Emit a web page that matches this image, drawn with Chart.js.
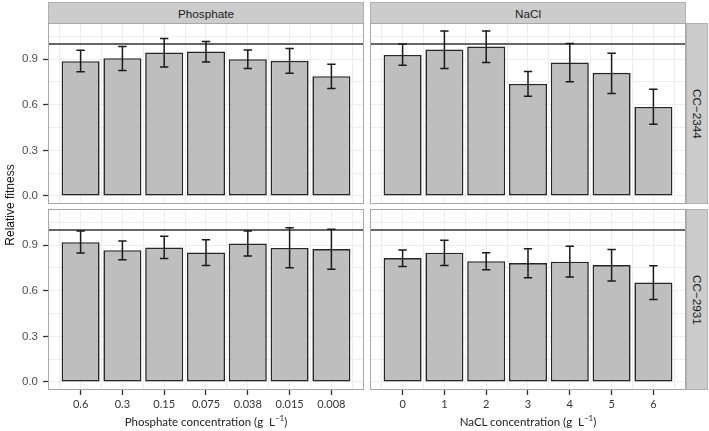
<!DOCTYPE html>
<html>
<head>
<meta charset="utf-8">
<script src="https://cdn.jsdelivr.net/npm/chart.js@4.4.1/dist/chart.umd.min.js"></script>
<style>
    body { margin: 0; background: #fff; }
    #wrap { position: relative; width: 709px; height: 431px; overflow: hidden; font-family: "Liberation Sans", Arial, sans-serif; }
    #wrap canvas { position: absolute; }
    .strip { position: absolute; box-sizing: border-box; background: #cccccc; border: 1px solid #b0b0b0; color: #1a1a1a; font-size: 11.7px; display: flex; align-items: center; justify-content: center; }
    .strip.side { writing-mode: vertical-rl; }
    .xtitle { position: absolute; top: 413px; font-family: Lato, "Open Sans", sans-serif; font-size: 11.5px; color: #222; text-align: center; white-space: nowrap; }
    .xtitle sup { font-size: 8px; }
    #ytitle { position: absolute; left: -40px; top: 198px; width: 100px; text-align: center; transform: rotate(-90deg); font-size: 12px; color: #111; white-space: nowrap; }
</style>
</head>
<body>
<div id="wrap">
    <div class="strip" style="left:48px;top:2px;width:316px;height:22px;">Phosphate</div>
    <div class="strip" style="left:370px;top:2px;width:316px;height:22px;">NaCl</div>
    <div class="strip side" style="left:686px;top:23px;width:22px;height:181px;">CC−2344</div>
    <div class="strip side" style="left:686px;top:209px;width:22px;height:181px;">CC−2931</div>

    <canvas id="p_tl" width="364" height="181" style="left:0;top:23px;"></canvas>
    <canvas id="p_tr" width="316" height="181" style="left:370px;top:23px;"></canvas>
    <canvas id="p_bl" width="364" height="211" style="left:0;top:209px;"></canvas>
    <canvas id="p_br" width="316" height="211" style="left:370px;top:209px;"></canvas>

    <div id="ytitle">Relative fitness</div>
    <div class="xtitle" style="left:48px;width:316px;">Phosphate concentration (g&nbsp;&nbsp;L<sup>−1</sup>)</div>
    <div class="xtitle" style="left:370px;width:316px;">NaCL concentration (g&nbsp;&nbsp;L<sup>−1</sup>)</div>
</div>

<script>
// Categorias
const phosphateLabels = ['0.6', '0.3', '0.15', '0.075', '0.038', '0.015', '0.008'];
const naclLabels = ['0', '1', '2', '3', '4', '5', '6'];

// Valores (media, limite inferior y superior)
const phos2344 = [0.887, 0.906, 0.944, 0.950, 0.900, 0.889, 0.788];
const phos2344Lo = [0.817, 0.825, 0.849, 0.882, 0.838, 0.808, 0.707];
const phos2344Hi = [0.959, 0.983, 1.036, 1.016, 0.961, 0.970, 0.867];

const nacl2344 = [0.928, 0.964, 0.983, 0.737, 0.878, 0.810, 0.586];
const nacl2344Lo = [0.860, 0.838, 0.878, 0.656, 0.751, 0.674, 0.472];
const nacl2344Hi = [0.999, 1.086, 1.086, 0.819, 1.003, 0.939, 0.702];

const phos2931 = [0.920, 0.867, 0.885, 0.852, 0.911, 0.882, 0.874];
const phos2931Lo = [0.848, 0.804, 0.813, 0.767, 0.828, 0.751, 0.741];
const phos2931Hi = [0.994, 0.928, 0.959, 0.935, 0.994, 1.014, 1.005];

const nacl2931 = [0.815, 0.850, 0.795, 0.782, 0.791, 0.769, 0.655];
const nacl2931Lo = [0.760, 0.767, 0.738, 0.686, 0.690, 0.664, 0.542];
const nacl2931Hi = [0.869, 0.933, 0.850, 0.876, 0.893, 0.872, 0.765];

// Ticks eje Y
const yMajorTicks = [0, 0.3, 0.6, 0.9];
const yMinorTicks = [0.15, 0.45, 0.75, 1.05];
const REF_LINE = 1;

const GRID = '#ededed';

Chart.defaults.font.family = '"Liberation Sans", Arial, sans-serif';

// Barras de error, linea de referencia y borde del panel
const panelExtras = {
    id: 'panelExtras',
    afterDatasetsDraw(chart, args, opts) {
        const { ctx, chartArea, scales: { x, y } } = chart;
        ctx.save();

        // linea horizontal en 1
        const yr = y.getPixelForValue(REF_LINE);
        ctx.strokeStyle = '#333';
        ctx.lineWidth = 1.5;
        ctx.beginPath();
        ctx.moveTo(chartArea.left, yr);
        ctx.lineTo(chartArea.right, yr);
        ctx.stroke();

        // errores
        ctx.strokeStyle = '#1a1a1a';
        ctx.lineWidth = 1.5;
        opts.lo.forEach((lo, i) => {
            const cx = x.getPixelForValue(i + 1);
            const half = x.getPixelForValue(i + 1.1) - cx;
            const yl = y.getPixelForValue(lo);
            const yh = y.getPixelForValue(opts.hi[i]);
            ctx.beginPath();
            ctx.moveTo(cx, yl); ctx.lineTo(cx, yh);
            ctx.moveTo(cx - half, yl); ctx.lineTo(cx + half, yl);
            ctx.moveTo(cx - half, yh); ctx.lineTo(cx + half, yh);
            ctx.stroke();
        });

        // borde
        ctx.strokeStyle = '#a8a8a8';
        ctx.lineWidth = 1;
        ctx.strokeRect(chartArea.left + 0.5, chartArea.top + 0.5,
            chartArea.right - chartArea.left - 1, chartArea.bottom - chartArea.top - 1);
        ctx.restore();
    }
};

function sinPadding(s) {
    s.paddingTop = 0;
    s.paddingBottom = 0;
    s.paddingLeft = 0;
    s.paddingRight = 0;
}

function crearPanel(id, labels, values, lo, hi, showY, showX) {
    const n = labels.length;
    const halfTicks = [];
    for (let i = 0; i <= n; i++) halfTicks.push({ value: i + 0.5 });

    return new Chart(document.getElementById(id), {
        type: 'bar',
        data: {
            datasets: [{
                data: values.map((v, i) => ({ x: i + 1, y: v })),
                backgroundColor: '#bebebe',
                borderColor: '#262626',
                borderWidth: 1.6,
                borderSkipped: false,
                barPercentage: 0.91,
                categoryPercentage: 1
            }]
        },
        options: {
            responsive: false,
            animation: false,
            layout: { padding: 0 },
            plugins: {
                legend: { display: false },
                tooltip: { enabled: false },
                panelExtras: { lo: lo, hi: hi }
            },
            scales: {
                x: {
                    type: 'linear',
                    position: 'bottom',
                    offset: false,
                    min: 0.22,
                    max: n + 0.78,
                    afterBuildTicks: s => { s.ticks = labels.map((l, i) => ({ value: i + 1 })); },
                    afterFit: s => { s.height = showX ? 30 : 0; sinPadding(s); },
                    border: { display: false },
                    grid: {
                        offset: false,
                        color: GRID,
                        drawTicks: showX,
                        tickLength: 5,
                        tickColor: '#333',
                        tickWidth: 1.3
                    },
                    ticks: {
                        display: showX,
                        autoSkip: false,
                        maxRotation: 0,
                        padding: 3,
                        color: '#333',
                        font: { family: 'Lato', size: 11 },
                        callback: v => labels[v - 1]
                    }
                },
                x2: {
                    type: 'linear',
                    position: 'bottom',
                    offset: false,
                    min: 0.22,
                    max: n + 0.78,
                    afterBuildTicks: s => { s.ticks = halfTicks.slice(); },
                    afterFit: s => { s.height = 0; sinPadding(s); },
                    border: { display: false },
                    grid: { offset: false, color: GRID, drawTicks: false },
                    ticks: { display: false }
                },
                y: {
                    min: -0.053,
                    max: 1.138,
                    afterBuildTicks: s => {
                        s.ticks = yMajorTicks.concat(yMinorTicks).sort((a, b) => a - b).map(v => ({ value: v }));
                    },
                    afterFit: s => { s.width = showY ? 48 : 0; sinPadding(s); },
                    border: { display: false },
                    grid: {
                        color: GRID,
                        drawTicks: showY,
                        tickLength: 5,
                        tickWidth: 1.3,
                        tickColor: ctx => yMajorTicks.includes(ctx.tick.value) ? '#333' : 'rgba(0,0,0,0)'
                    },
                    ticks: {
                        display: showY,
                        padding: 5,
                        color: '#4d4d4d',
                        font: { size: 11.5 },
                        callback: v => yMajorTicks.includes(v) ? v.toFixed(1) : ''
                    }
                }
            }
        },
        plugins: [panelExtras]
    });
}

document.addEventListener("DOMContentLoaded", () => {
    crearPanel('p_tl', phosphateLabels, phos2344, phos2344Lo, phos2344Hi, true, false);
    crearPanel('p_tr', naclLabels, nacl2344, nacl2344Lo, nacl2344Hi, false, false);
    crearPanel('p_bl', phosphateLabels, phos2931, phos2931Lo, phos2931Hi, true, true);
    crearPanel('p_br', naclLabels, nacl2931, nacl2931Lo, nacl2931Hi, false, true);
});
</script>
</body>
</html>
